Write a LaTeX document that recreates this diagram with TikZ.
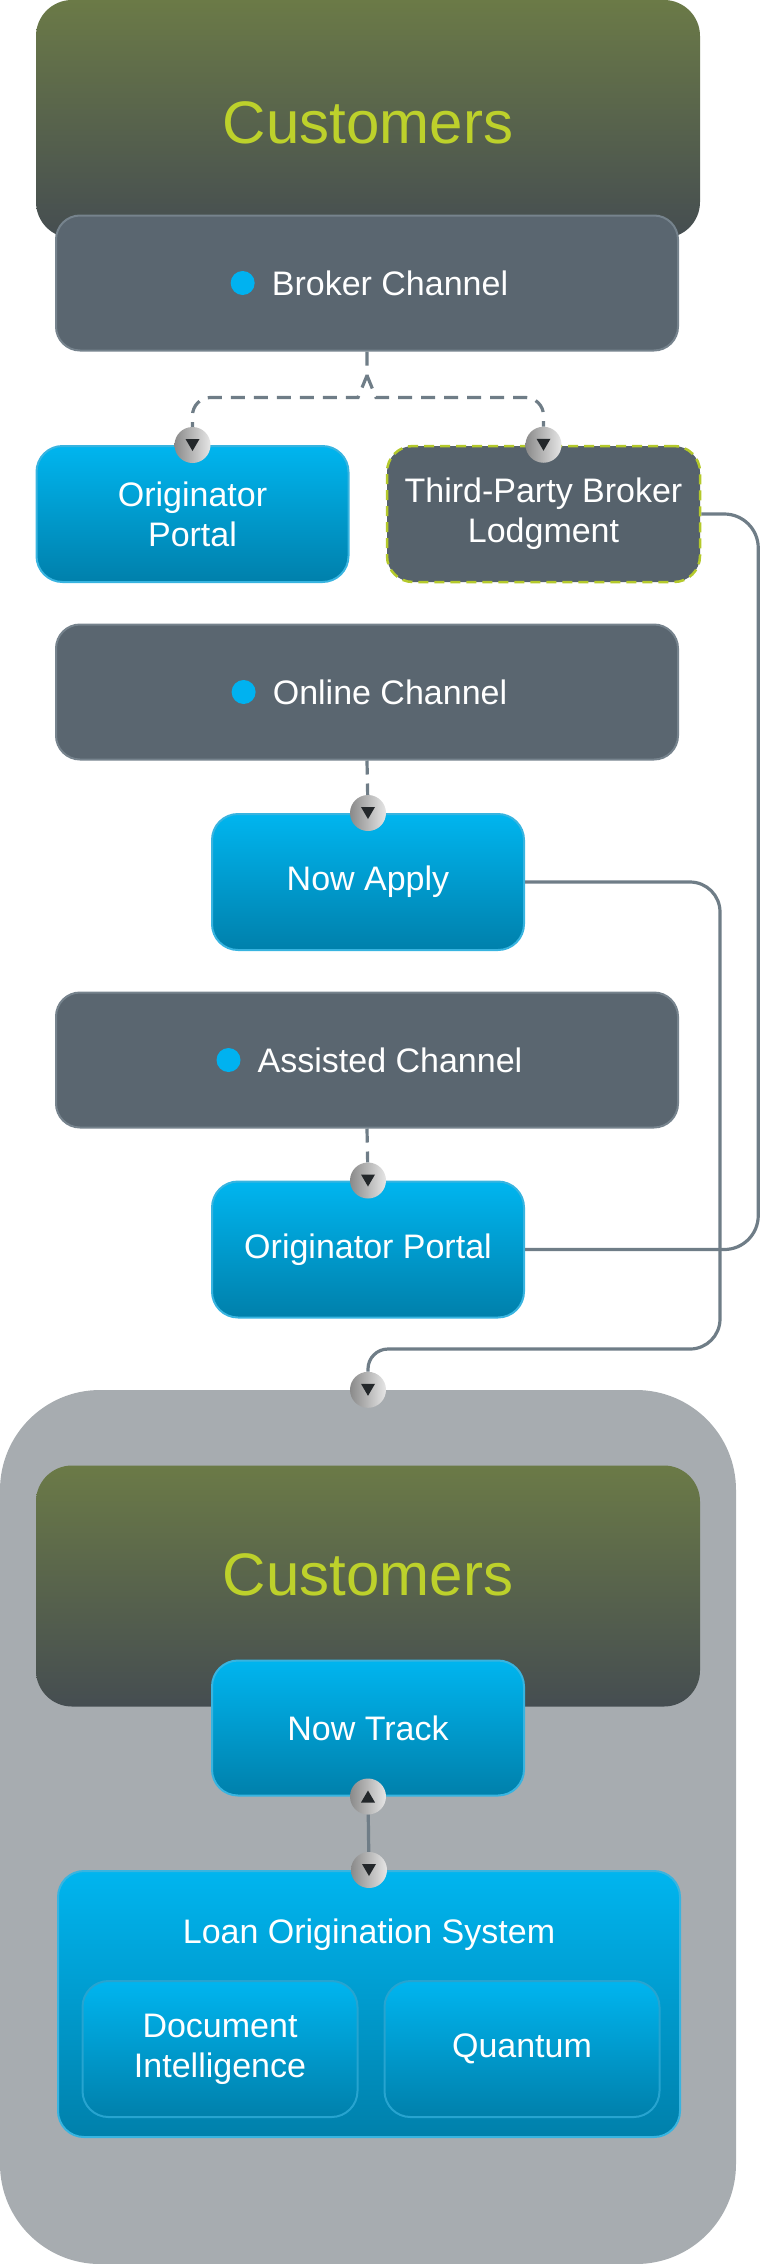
\documentclass[tikz,border=0pt]{standalone}
\usepackage{fontspec}
\setmainfont{Liberation Sans}
\usepackage{xcolor}
\usepackage{tikz}
\usetikzlibrary{calc}

\definecolor{custtop}{HTML}{6B7A47}
\definecolor{custbot}{HTML}{454D51}
\definecolor{custword}{HTML}{BDD12B}
\definecolor{chanfill}{HTML}{5A6670}
\definecolor{chanline}{HTML}{76838D}
\definecolor{bluetop}{HTML}{00B5EF}
\definecolor{bluebot}{HTML}{0080AB}
\definecolor{blueline}{HTML}{38B4E0}
\definecolor{thirdfill}{HTML}{56626C}
\definecolor{limeline}{HTML}{B4C92B}
\definecolor{wirecol}{HTML}{6F7D87}
\definecolor{shell}{HTML}{A7ACB0}
\definecolor{knobdark}{HTML}{8A8A8A}
\definecolor{knoblight}{HTML}{E6E6E6}
\definecolor{tridark}{HTML}{23272A}
\definecolor{dotblue}{HTML}{00B2F0}

\newcommand{\bodyfont}{\fontsize{34}{40}\selectfont}
\newcommand{\bigfont}{\fontsize{60}{70}\selectfont}

\tikzset{
  custbox/.style={rounded corners=36pt, top color=custtop, bottom color=custbot,
    minimum width=664pt, minimum height=238pt, inner sep=0pt},
  custlabel/.style={text=custword, font=\bigfont, inner sep=0pt},
  chanbox/.style={fill=chanfill, draw=chanline, line width=2pt, rounded corners=24pt,
    minimum width=622pt, minimum height=135pt},
  chantext/.style={text=white, font=\bodyfont, inner sep=0pt},
  bluebox/.style={top color=bluetop, bottom color=bluebot, draw=blueline, line width=2pt,
    rounded corners=26pt, minimum width=312pt, minimum height=136pt,
    text=white, font=\bodyfont, align=center},
  thirdbox/.style={fill=thirdfill, draw=limeline, line width=2.5pt, dash pattern=on 10pt off 6pt,
    rounded corners=26pt, minimum width=313pt, minimum height=136pt,
    text=white, font=\bodyfont, align=center},
  shellbox/.style={fill=shell, rounded corners=100pt, minimum width=736pt, minimum height=874pt},
  dashline/.style={draw=wirecol, line width=3.2pt, dash pattern=on 14pt off 9pt},
  wire/.style={draw=wirecol, line width=3.2pt},
  knob/.style={circle, minimum size=36pt, inner sep=0pt, left color=knobdark, right color=knoblight},
}

\newcommand{\knobdown}[2]{%
  \node[knob] (#1) at (#2) {};
  \fill[tridark] ($(#1)+(-7,-6)$) -- ($(#1)+(7,-6)$) -- ($(#1)+(0,6)$) -- cycle;
}
\newcommand{\knobup}[2]{%
  \node[knob] (#1) at (#2) {};
  \fill[tridark] ($(#1)+(-7,6)$) -- ($(#1)+(7,6)$) -- ($(#1)+(0,-6)$) -- cycle;
}

\begin{document}
\begin{tikzpicture}[x=1pt,y=-1pt]
  \useasboundingbox (0,0) rectangle (762,2264);

  \node[custbox] (cust1) at (368,119) {};
  \node[custlabel] (cust1t) at (368,123) {Customers};

  \node[chanbox] (broker) at (367,283) {};
  \node[chantext] (brokert) at ($(broker)+(23,0)$) {Broker Channel};
  \fill[dotblue] ($(brokert.west)+(-29,0)$) circle (12pt);

  \node[bluebox] (orig1) at (192.5,514) {Originator\\Portal};
  \node[thirdbox] (third) at (543.5,514) {Third-Party Broker\\Lodgment};

  \node[chanbox] (online) at (367,692) {};
  \node[chantext] (onlinet) at ($(online)+(23,0)$) {Online Channel};
  \fill[dotblue] ($(onlinet.west)+(-29,0)$) circle (12pt);

  \node[bluebox] (nowapply) at (368,882) {Now Apply};

  \node[chanbox] (assisted) at (367,1060) {};
  \node[chantext] (assistedt) at ($(assisted)+(23,0)$) {Assisted Channel};
  \fill[dotblue] ($(assistedt.west)+(-29,0)$) circle (12pt);

  \node[bluebox] (orig2) at (368,1249.5) {Originator Portal};

  \node[shellbox] (shell) at (368,1827) {};
  \node[custbox, minimum height=241pt] (cust2) at (368,1586) {};
  \node[custlabel] (cust2t) at (368,1575) {Customers};
  \node[bluebox, minimum height=135pt] (nowtrack) at (368,1728) {Now Track};

  \node[bluebox, minimum width=622pt, minimum height=266pt] (los) at (369,2004) {};
  \node[chantext] (lost) at (369,1935) {Loan Origination System};
  \node[bluebox, minimum width=275pt, draw=blueline!70!bluebot] (docint) at (220,2049) {Document\\Intelligence};
  \node[bluebox, minimum width=275pt, draw=blueline!70!bluebot] (quantum) at (522,2049) {Quantum};

  \knobdown{k1}{orig1.north}
  \knobdown{k2}{third.north}
  \knobdown{k3}{nowapply.north}
  \knobdown{k4}{orig2.north}
  \knobdown{k5}{shell.north}
  \knobup{k6}{nowtrack.south}
  \knobdown{k7}{los.north}

  \draw[dashline] (broker.south) -- ++(0,24) coordinate (split) -- ++(-9,22) [rounded corners=18pt] -| (k1);
  \draw[dashline] (split) -- ++(9,22) [rounded corners=18pt] -| (k2);
  \draw[dashline] (online.south) -- (k3);
  \draw[dashline] (assisted.south) -- (k4);
  \draw[wire, rounded corners=34pt] (third.east) -- ++(57,0) |- (orig2.east);
  \draw[wire, rounded corners=30pt] (nowapply.east) -- ++(195,0) -- ++(0,467) [rounded corners=20pt] -| (k5);
  \draw[wire] (k6) -- (k7);
\end{tikzpicture}
\end{document}
